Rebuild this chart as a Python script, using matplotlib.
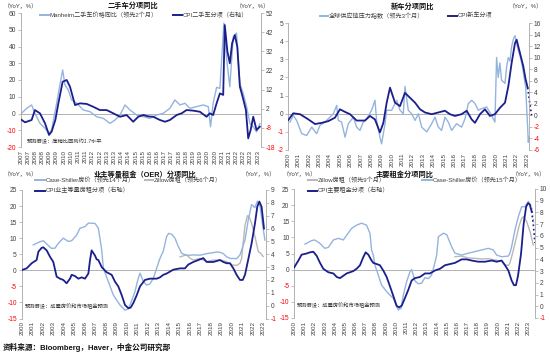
import matplotlib.pyplot as plt
from matplotlib.lines import Line2D

plt.rcParams['font.family'] = ['Liberation Sans', 'Noto Sans CJK SC']

W, H = 550, 356
LIGHT = '#94B4DE'
DARK = '#1B1F8C'
GREY = '#B8B8B8'
AXC = '#A6A6A6'
TXT = '#404040'

# ---- 二手车 ----
manheim_t = [2007.0, 2007.42, 2007.76, 2007.99, 2008.34, 2008.69, 2008.97, 2009.15, 2009.5, 2009.62,
             2009.92, 2010.08, 2010.31, 2010.54, 2010.9, 2011.36, 2011.82, 2012.28, 2012.75, 2013.21,
             2013.56, 2013.91, 2014.26, 2014.6, 2015.07, 2015.53, 2016.0, 2016.46, 2016.92, 2017.38,
             2017.73, 2018.08, 2018.43, 2018.77, 2019.24, 2019.7, 2020.05, 2020.21, 2020.39, 2020.63,
             2020.86, 2021.14, 2021.32, 2021.55, 2021.79, 2022.02, 2022.25, 2022.48, 2022.72, 2022.95,
             2023.18, 2023.41, 2023.64]
manheim = [-0.3, 3.1, 5.1, 0.1, -5.9, -8.8, -11.8, -9.8, 6.1, 12,
           26, 17, 14, 8.1, 6.1, 2.1, 1.1, -1.9, -2.9, -5.9,
           -3.9, -0.9, 5.1, 2.1, -0.9, -1.9, -2.9, -0.9, 0.1, 3.1,
           8.1, 5.1, 6.1, 3.1, 4.1, 5.1, 4.1, -7.9, 6.1, 15.6,
           15, 54, 33, 16, 46, 48, 18, 12, 4, -6,
           -8, -11, -6]
cpi_used_t = [2007.0, 2007.3, 2007.76, 2007.99, 2008.34, 2008.69, 2008.97, 2009.15, 2009.41, 2009.62,
              2009.92, 2010.2, 2010.43, 2010.78, 2011.12, 2011.59, 2012.05, 2012.51, 2012.98, 2013.44,
              2013.91, 2014.37, 2014.83, 2015.18, 2015.53, 2015.88, 2016.22, 2016.69, 2017.04, 2017.38,
              2017.85, 2018.2, 2018.54, 2019.0, 2019.47, 2019.93, 2020.16, 2020.39, 2020.63, 2020.86,
              2021.09, 2021.2, 2021.38, 2021.55, 2021.71, 2021.9, 2022.07, 2022.25, 2022.44, 2022.67,
              2022.83, 2023.0, 2023.18, 2023.41, 2023.64]
cpi_used = [-3.5, -5.1, -3.9, 1.3, -0.4, -5.6, -11.7, -10.0, -3.9, 4.8,
            16.1, 17.0, 13.5, 3.9, 4.8, 4.5, 3.0, 1.3, 1.3, -0.4,
            -2.2, -1.3, -4.8, -2.2, -1.3, -2.0, -2.2, -3.9, -4.8, -3.9,
            -1.3, -0.4, 1.3, 1.0, 0.4, -2.2, -0.4, -1.3, 4.8, 10.0,
            9.2, 45.7, 32, 25.7, 36.2, 40.5, 34.4, 13.5, 8.3, 1.3,
            -13.5, -9.1, -2.2, -9.1, -7.4]

# ---- 新车 ----
gscpi_t = [2000.19, 2000.51, 2000.83, 2001.32, 2001.8, 2002.28, 2002.76, 2003.08, 2003.56, 2004.04,
           2004.36, 2004.69, 2004.84, 2005.16, 2005.49, 2005.81, 2006.29, 2006.61, 2006.93, 2007.25,
           2007.57, 2008.05, 2008.37, 2008.53, 2008.85, 2009.01, 2009.34, 2009.5, 2009.98, 2010.46,
           2010.78, 2011.1, 2011.26, 2011.58, 2011.9, 2012.23, 2012.55, 2012.87, 2013.35, 2013.83,
           2014.15, 2014.47, 2014.79, 2015.11, 2015.43, 2015.75, 2016.23, 2016.71, 2017.04, 2017.36,
           2017.68, 2018.0, 2018.32, 2018.64, 2019.12, 2019.6, 2019.92, 2020.08, 2020.24, 2020.4,
           2020.56, 2020.89, 2021.05, 2021.21, 2021.37, 2021.53, 2021.69, 2021.85, 2022.01, 2022.17,
           2022.33, 2022.5, 2022.65, 2022.81, 2022.88, 2022.97, 2023.07, 2023.13, 2023.22]
gscpi = [-0.46, -0.09, -0.37, -1.1, -1.2, -0.74, -1.1, -0.64, -0.46, -0.19,
         0.0, 0.46, -0.37, -0.46, -1.29, -0.55, -0.19, -0.74, -0.92, -0.46,
         -0.28, 0.19, 0.74, -0.37, -1.29, -1.66, -0.55, 0.19, 0.19, 0.74,
         0.19, 0.0, 1.5, 0.19, 0.0, -0.37, 0.0, -0.74, -1.0, -0.55,
         -0.19, -0.74, -0.92, -0.19, -0.46, -0.92, -0.55, -0.74, -0.28, 0.56,
         0.74, 0.56, 0.19, 0.28, 0.37, -0.09, -0.46, 3.1, 2.0, 2.8,
         1.85, 1.67, 2.6, 3.1, 2.9, 3.7, 4.1, 4.3, 3.9, 3.5,
         3.2, 2.8, 2.3, 1.7, 1.5, 0.37, -0.74, -1.57, -1.3]
cpi_new_t = [2000.03, 2000.51, 2001.16, 2001.96, 2002.6, 2003.24, 2003.88, 2004.52, 2005.0, 2005.49,
             2005.97, 2006.61, 2007.41, 2007.89, 2008.37, 2008.85, 2009.18, 2009.5, 2009.82, 2010.3,
             2010.78, 2011.26, 2011.74, 2012.23, 2012.71, 2013.19, 2013.83, 2014.47, 2015.11, 2015.59,
             2016.07, 2016.71, 2017.2, 2017.68, 2018.0, 2018.48, 2018.96, 2019.44, 2019.92, 2020.4,
             2020.89, 2021.21, 2021.53, 2021.85, 2022.01, 2022.33, 2022.65, 2022.88, 2023.07]
cpi_new = [-0.8, 0.36, 0.2, -0.7, -1.5, -1.3, -1.0, -0.4, 1.05, 0.6,
           0.2, -0.9, -0.9, -0.1, -0.7, -2.95, -1.3, 2.2, 4.8, 2.2,
           1.6, 3.9, 3.05, 2.2, 1.05, 0.5, 0.2, 0.5, 0.8, 0.2,
           -0.1, 0.2, 0.8, -0.7, -1.3, 0.2, 1.05, -0.1, 0.2, 1.3,
           2.2, 5.05, 9.1, 12.5, 13.1, 10.8, 8.5, 6.2, 4.8]
cpi_new_fc_t = [2023.07, 2023.25, 2023.45]
cpi_new_fc = [4.8, 2.4, 0.0]

# ---- 业主等量租金 ----
cs14_t = [2001.1, 2001.74, 2002.06, 2002.38, 2002.85, 2003.17, 2003.49, 2003.96, 2004.44, 2004.76,
          2005.24, 2005.55, 2006.03, 2006.35, 2006.98, 2007.3, 2007.45, 2007.62, 2007.78, 2008.25,
          2008.73, 2009.36, 2009.84, 2010.16, 2010.47, 2010.79, 2011.1, 2011.27, 2011.59, 2011.9,
          2012.22, 2012.54, 2012.85, 2013.17, 2013.49, 2013.8, 2014.0, 2014.3, 2014.6, 2014.92,
          2015.24, 2015.71, 2016.35, 2016.98, 2017.62, 2018.25, 2018.57, 2018.89, 2019.2, 2019.52,
          2019.84, 2020.16, 2020.47, 2020.79, 2021.27, 2021.58, 2021.9, 2022.2, 2022.45, 2022.7,
          2022.95, 2023.17]
cs14 = [7.9, 8.9, 9.2, 8.2, 6.8, 6.9, 8.4, 10, 9, 9.2,
        11, 13.1, 13.6, 14.7, 14.6, 13.1, 10, 6.3, 0.6, -3.5,
        -7.7, -10.8, -12.4, -12, -9.5, -6.6, -2.5, -0.9, -3.5, -4.6,
        -4.2, -2.5, 0.6, 3.7, 6, 10.5, 11.5, 11.2, 10, 7.4,
        5.3, 4.6, 4.8, 4.7, 5.2, 5.5, 5.7, 5.6, 5.2, 4.2,
        3.7, 3.7, 3.6, 4.8, 9.4, 15.7, 20.5, 19.5, 21.5, 20,
        14, 9.4]
zillow6_t = [2015.08, 2015.4, 2015.71, 2016.03, 2016.35, 2016.98, 2017.62, 2018.25, 2018.89, 2019.52,
             2020.0, 2020.47, 2020.79, 2020.95, 2021.11, 2021.27, 2021.5, 2021.65, 2021.9, 2022.22,
             2022.54, 2022.76, 2023.0]
zillow6 = [4.2, 4.5, 4.9, 3.8, 3.2, 3.7, 2.7, 3.2, 3.2, 2.7,
           1.7, 1.5, 2.2, 3.7, 9, 14, 17, 16.8, 14.6, 10.5,
           5.8, 5.3, 4.3]
cpi_oer_t = [2000.0, 2000.47, 2000.95, 2001.42, 2001.59, 2001.9, 2002.06, 2002.38, 2002.7, 2003.01,
             2003.33, 2003.65, 2003.96, 2004.28, 2004.6, 2004.76, 2005.08, 2005.4, 2005.71, 2006.03,
             2006.35, 2006.5, 2006.66, 2006.98, 2007.14, 2007.3, 2007.62, 2008.09, 2008.57, 2008.89,
             2009.2, 2009.52, 2009.84, 2010.16, 2010.38, 2010.63, 2010.95, 2011.27, 2011.74, 2012.22,
             2012.85, 2013.17, 2013.49, 2013.81, 2014.44, 2015.08, 2015.55, 2015.87, 2016.35, 2016.82,
             2017.3, 2017.62, 2018.25, 2018.89, 2019.2, 2019.52, 2019.84, 2020.16, 2020.47, 2020.79,
             2021.05, 2021.27, 2021.58, 2021.9, 2022.22, 2022.44, 2022.63, 2022.85, 2023.08]
cpi_oer = [2.77, 2.9, 3.3, 3.55, 4.2, 4.5, 4.54, 4.3, 3.8, 3.4,
           2.25, 2.1, 2.0, 1.74, 2.1, 2.4, 2.3, 2.1, 2.2, 2.1,
           2.5, 3.5, 4.3, 3.9, 3.6, 3.55, 3.0, 2.6, 2.4, 1.86,
           1.5, 0.83, 0.05, -0.2, -0.15, 0.2, 0.8, 1.5, 2.0, 2.1,
           2.1, 2.2, 2.4, 2.5, 2.8, 2.9, 2.9, 3.2, 3.4, 3.55,
           3.7, 3.4, 3.4, 3.55, 3.4, 3.3, 3.3, 2.9, 2.4, 2.0,
           2.0, 2.4, 3.6, 4.85, 6.4, 7.7, 8.1, 7.7, 6.0]

# ---- 主要租金 ----
cs15_t = [2001.05, 2001.7, 2002.0, 2002.5, 2003.0, 2003.35, 2003.84, 2004.33, 2004.82, 2005.3,
          2005.64, 2006.13, 2006.62, 2007.1, 2007.44, 2007.6, 2007.77, 2007.93, 2008.26, 2008.58,
          2009.08, 2009.41, 2009.74, 2010.06, 2010.23, 2010.5, 2010.72, 2011.05, 2011.38, 2011.54,
          2011.87, 2012.2, 2012.52, 2012.85, 2013.18, 2013.5, 2013.77, 2014.0, 2014.17, 2014.66,
          2015.0, 2015.47, 2015.8, 2016.46, 2017.1, 2017.77, 2018.43, 2019.08, 2019.57, 2019.9,
          2020.39, 2021.05, 2021.2, 2021.37, 2021.7, 2022.03, 2022.36, 2022.69, 2023.02]
cs15 = [7.9, 9.0, 9.2, 8.2, 6.6, 6.9, 9.2, 9.7, 9.2, 11.3,
        12.8, 13.8, 14.4, 13.8, 11.3, 6.1, 4.5, 1.4, -1.7, -4.8,
        -6.8, -7.9, -8.9, -11.5, -12.5, -12, -7.9, -3.7, -0.6, 0.0,
        -3.5, -4.4, -4.2, -2.5, -2.8, -1.7, 1.4, 4.5, 10.2, 11.3,
        10.8, 7.1, 5.1, 4.5, 5.1, 5.6, 6.1, 6.6, 6.1, 4.5,
        4.0, 4.2, 5.1, 7.1, 12.3, 16.4, 19.5, 19.5, 21.1]
cs15_fc_t = [2023.02, 2023.34, 2023.57]
cs15_fc = [21.1, 19.5, 14.4]
zillow9_t = [2015.8, 2016.46, 2017.1, 2017.77, 2018.43, 2019.08, 2019.75, 2020.39, 2020.72, 2021.05,
             2021.2, 2021.5, 2021.86, 2022.1, 2022.36, 2022.52, 2022.85, 2023.18, 2023.5]
zillow9 = [4.0, 4.2, 3.6, 3.5, 3.3, 3.4, 3.0, 2.6, 1.5, 1.3,
           2.0, 5.5, 10.2, 13.5, 15.9, 16.4, 14.9, 11.8, 7.6]
cpi_rent_t = [2000.0, 2000.4, 2000.72, 2001.21, 2001.54, 2001.87, 2002.2, 2002.53, 2002.85, 2003.35,
              2003.84, 2004.17, 2004.49, 2004.82, 2005.15, 2005.48, 2005.8, 2006.13, 2006.46, 2006.79,
              2007.02, 2007.28, 2007.6, 2007.77, 2008.1, 2008.42, 2008.75, 2009.08, 2009.41, 2009.74,
              2010.06, 2010.29, 2010.56, 2010.88, 2011.21, 2011.54, 2011.87, 2012.36, 2012.85, 2013.34,
              2013.83, 2014.33, 2014.82, 2015.31, 2015.8, 2016.46, 2016.95, 2017.44, 2018.1, 2018.75,
              2019.41, 2019.9, 2020.39, 2020.72, 2021.05, 2021.37, 2021.6, 2021.8, 2022.0, 2022.3,
              2022.55, 2022.8, 2023.0, 2023.15, 2023.34]
cpi_rent = [3.33, 3.9, 4.4, 4.5, 4.6, 4.65, 4.3, 3.7, 3.2, 2.9,
            2.8, 2.5, 2.4, 2.6, 2.8, 2.9, 3.0, 3.2, 3.5, 4.2,
            4.6, 4.4, 3.9, 3.7, 3.6, 3.5, 3.05, 2.5, 1.7, 0.87,
            0.05, -0.1, 0.05, 0.7, 1.4, 2.2, 2.4, 2.5, 2.8, 2.8,
            3.05, 3.2, 3.5, 3.6, 3.7, 4.0, 4.0, 3.9, 3.8, 3.8,
            3.9, 3.8, 3.9, 3.5, 3.05, 2.2, 1.8, 1.8, 2.6, 4.5,
            7.0, 8.5, 8.8, 8.7, 8.1]
cpi_rent_fc_t = [2023.34, 2023.5, 2023.67]
cpi_rent_fc = [8.1, 7.0, 5.4]

# 坐标轴刻度
p1_left_ticks = [60, 50, 40, 30, 20, 10, 0, -10, -20]
p1_right_ticks = [52, 42, 32, 22, 12, 2, -8, -18]
p2_left_ticks = [5, 4, 3, 2, 1, 0, -1, -2]
p2_right_ticks = [16, 14, 12, 10, 8, 6, 4, 2, 0, -2, -4, -6]
p3_left_ticks = [25, 20, 15, 10, 5, 0, -5, -10, -15]
p3_right_ticks = [9, 8, 7, 6, 5, 4, 3, 2, 1, 0, -1]
p4_right_ticks = [10, 9, 8, 7, 6, 5, 4, 3, 2, 1, 0, -1]
p1_years = [y + h for y in range(2007, 2024) for h in (0, 0.5)]
p1_year_labels = [str(int(y)) for y in p1_years]
years_2000 = list(range(2000, 2024))
year_labels_2000 = [str(y) for y in years_2000]


def fx(x):
    return x / W


def fy(y):
    return 1 - y / H


fig = plt.figure(figsize=(5.5, 3.56), dpi=100)


def style_y(a, ticks, side):
    a.set_yticks(ticks, labels=[str(t) for t in ticks])
    a.tick_params(axis='y', labelsize=4.8, length=2, width=0.5, color=AXC,
                  pad=1.5, labelcolor=TXT)
    for lab, t in zip(a.get_yticklabels(), ticks):
        if t < 0:
            lab.set_color('#FF0000')
    for s in ['top', 'bottom', 'left', 'right']:
        a.spines[s].set_visible(s == side)
    a.spines[side].set_color(AXC)
    a.spines[side].set_linewidth(0.6)


def make_panel(box, ylim, yt, ylim2, yt2, xlim, xt, xl):
    x0, y0, x1, y1 = box
    ax = fig.add_axes([fx(x0), fy(y1), (x1 - x0) / W, (y1 - y0) / H])
    ax2 = ax.twinx()
    ax.set_xlim(*xlim)
    ax.set_ylim(*ylim)
    ax2.set_ylim(*ylim2)
    style_y(ax, yt, 'left')
    style_y(ax2, yt2, 'right')
    ax.set_xticks(xt, labels=xl, rotation=90, fontsize=4.5, color=TXT)
    ax.tick_params(axis='x', length=0, pad=2)
    ax.axhline(0, color=AXC, lw=0.6, zorder=0)
    return ax, ax2


def legend_item(x0, x1, y, color, label):
    fig.add_artist(Line2D([fx(x0), fx(x1)], [fy(y), fy(y)], color=color, lw=1.4))
    fig.text(fx(x1 + 0.5), fy(y), label, fontsize=4.4, color=TXT, va='center', ha='left')


# 二手车分项同比
ax, ax2 = make_panel((20.7, 13, 261, 147), (-20, 60), p1_left_ticks, (-18, 52), p1_right_ticks,
                     (2007, 2023.72), p1_years, p1_year_labels)
ax.plot(manheim_t, manheim, color=LIGHT, lw=1.0)
ax2.plot(cpi_used_t, cpi_used, color=DARK, lw=1.3)

# 新车分项同比
ax, ax2 = make_panel((288, 23, 529, 150), (-2, 5), p2_left_ticks, (-6, 16), p2_right_ticks,
                     (2000, 2023.2), years_2000, year_labels_2000)
ax.plot(gscpi_t, gscpi, color=LIGHT, lw=1.0, clip_on=False)
ax2.plot(cpi_new_t, cpi_new, color=DARK, lw=1.3)
ax2.plot(cpi_new_fc_t, cpi_new_fc, color=DARK, lw=1.2, ls=':', clip_on=False)

# 业主等量租金（OER）分项同比
ax, ax2 = make_panel((21.7, 190, 266, 318.5), (-15, 25), p3_left_ticks, (-1, 9), p3_right_ticks,
                     (2000, 2023.27), years_2000, year_labels_2000)
ax.plot(zillow6_t, zillow6, color=GREY, lw=1.0)
ax.plot(cs14_t, cs14, color=LIGHT, lw=1.0)
ax2.plot(cpi_oer_t, cpi_oer, color=DARK, lw=1.3)

# 主要租金分项同比
ax, ax2 = make_panel((294.3, 189, 535, 318), (-15, 25), p3_left_ticks, (-1, 10), p4_right_ticks,
                     (2000, 2023.67), years_2000, year_labels_2000)
ax.plot(zillow9_t, zillow9, color=GREY, lw=1.0)
ax.plot(cs15_t, cs15, color=LIGHT, lw=1.0)
ax.plot(cs15_fc_t, cs15_fc, color=LIGHT, lw=1.0, ls=':')
ax2.plot(cpi_rent_t, cpi_rent, color=DARK, lw=1.3)
ax2.plot(cpi_rent_fc_t, cpi_rent_fc, color=DARK, lw=1.2, ls=':')

# 标题
for x, y, t in [(133, 6.5, '二手车分项同比'), (413, 6.5, '新车分项同比'),
                (145, 174.5, '业主等量租金（OER）分项同比'), (405, 174.5, '主要租金分项同比')]:
    fig.text(fx(x), fy(y), t, fontsize=5.2, weight='bold', color='#111111', ha='center', va='center')

# 单位
unit = '（YoY，%）'
for x, y, ha in [(4, 6, 'left'), (270, 6, 'right'), (543, 6, 'right'),
                 (4, 174, 'left'), (276, 174, 'right'), (283, 174, 'left'), (546, 174, 'right')]:
    fig.text(fx(x), fy(y), unit, fontsize=4.3, color=TXT, ha=ha, va='center')

# 图例
legend_item(40, 49, 14.7, LIGHT, 'Manheim二手车价格同比（领先2个月）')
legend_item(173, 182, 14.7, DARK, 'CPI二手车分项（右轴）')
legend_item(320, 328, 15.5, LIGHT, '全球供应链压力指数（领先3个月）')
legend_item(448, 457, 15.5, DARK, 'CPI新车分项')
legend_item(35, 45, 180, LIGHT, 'Case-Shiller房价（领先14个月）')
legend_item(145, 153, 180, GREY, 'Zillow房租（领先6个月）')
legend_item(35, 45, 190.5, DARK, 'CPI业主等量房租分项（右轴）')
legend_item(308, 317, 180, GREY, 'Zillow房租（领先9个月）')
legend_item(422, 432, 180, LIGHT, 'Case-Shiller房价（领先15个月）')
legend_item(308, 317, 190.5, DARK, 'CPI主要租金分项（右轴）')

# 注释
for x, y, t in [(27, 141.5, '预测假设：库销比回到约1.7水平'),
                (25, 306.5, '预测假设：成屋房价和市场租金预测'),
                (297, 305, '预测假设：成屋房价和市场租金预测')]:
    fig.text(fx(x), fy(y), t, fontsize=3.8, style='italic', color='#333333', va='center')

fig.text(fx(3), fy(347), '资料来源：Bloomberg，Haver，中金公司研究部', fontsize=5.5,
         weight='bold', color='#111111', va='center')

fig.savefig('out.png', dpi=100)
